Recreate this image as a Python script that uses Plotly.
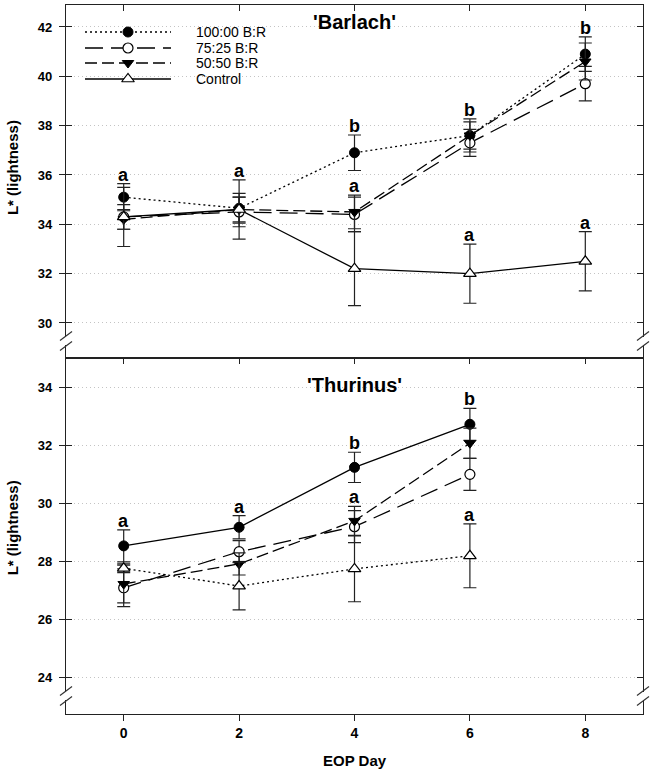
import plotly.graph_objects as go

# ---------------- data ----------------
days = [0, 2, 4, 6, 8]
days_thurinus = [0, 2, 4, 6]
series_names = ["100:00 B:R", "75:25 B:R", "50:50 B:R", "Control"]

# 'Barlach'
barlach_100 = [35.1, 34.65, 36.9, 37.6, 40.9]
barlach_100_err = [0.55, 0.6, 0.72, 0.67, 0.7]
barlach_75 = [34.3, 34.5, 34.4, 37.3, 39.7]
barlach_75_err = [0.5, 0.6, 0.7, 0.55, 0.7]
barlach_50 = [34.2, 34.6, 34.5, 37.6, 40.6]
barlach_50_err = [0.4, 0.5, 0.68, 0.55, 0.75]
barlach_ctrl = [34.3, 34.6, 32.2, 32.0, 32.5]
barlach_ctrl_err = [1.2, 1.2, 1.5, 1.2, 1.2]

# 'Thurinus'
thur_100 = [28.54, 29.18, 31.24, 32.72]
thur_100_err = [0.55, 0.4, 0.52, 0.55]
thur_75 = [27.1, 28.34, 29.2, 31.0]
thur_75_err = [0.65, 0.38, 0.55, 0.55]
thur_50 = [27.23, 27.92, 29.4, 32.07]
thur_50_err = [0.65, 0.38, 0.5, 0.52]
thur_ctrl = [27.77, 27.16, 27.75, 28.2]
thur_ctrl_err = [0.15, 0.82, 1.13, 1.1]

# significance letters: day, letter, indices of series whose error-bar top it sits on
bar_letter_days = [0, 2, 4, 4, 6, 6, 8, 8]
bar_letter_text = ["a", "a", "b", "a", "b", "a", "b", "a"]
bar_letter_groups = [[0, 1, 2, 3], [0, 1, 2, 3], [0], [1, 2], [0, 1, 2], [3], [0, 1, 2], [3]]

thur_letter_days = [0, 2, 4, 4, 6, 6]
thur_letter_text = ["a", "a", "b", "a", "b", "a"]
thur_letter_groups = [[0, 1, 2, 3], [0, 1, 2, 3], [0], [1, 2], [0], [3]]

x_ticks = [0, 2, 4, 6, 8]
y_ticks_top = [30, 32, 34, 36, 38, 40, 42]
y_ticks_bottom = [24, 26, 28, 30, 32, 34]

# ---------------- styles ----------------
FONT = "Liberation Sans, Arial, sans-serif"
markers = [
    dict(symbol="circle", size=10, color="black", line=dict(color="black", width=1)),
    dict(symbol="circle", size=10, color="white", line=dict(color="black", width=1.2)),
    dict(symbol="triangle-down", size=10, color="black", line=dict(color="black", width=1)),
    dict(symbol="triangle-up", size=11, color="white", line=dict(color="black", width=1.2)),
]
DOT = "2px,3px"
LONG = "18px,8px"
DASH = "12px,5px"
bar_dash = [DOT, LONG, DASH, "solid"]
thur_dash = ["solid", LONG, DASH, DOT]

fig = go.Figure()

bar_vals = [barlach_100, barlach_75, barlach_50, barlach_ctrl]
bar_errs = [barlach_100_err, barlach_75_err, barlach_50_err, barlach_ctrl_err]
thur_vals = [thur_100, thur_75, thur_50, thur_ctrl]
thur_errs = [thur_100_err, thur_75_err, thur_50_err, thur_ctrl_err]

def add_panel(xs, vals, errs, dashes, xa, ya):
    for i in range(4):
        fig.add_trace(go.Scatter(
            x=xs, y=vals[i], mode="lines+markers", xaxis=xa, yaxis=ya,
            line=dict(color="black", width=1.3, dash=dashes[i]),
            marker=markers[i], showlegend=False, hoverinfo="skip",
            error_y=dict(type="data", array=errs[i], visible=True,
                         color="#222222", thickness=1.2, width=6.5),
        ))

add_panel(days, bar_vals, bar_errs, bar_dash, "x", "y")
add_panel(days_thurinus, thur_vals, thur_errs, thur_dash, "x2", "y2")

# dummy traces to bind overlay tick axes
for xa, ya in [("x", "y3"), ("x", "y5"), ("x4", "y2"), ("x2", "y4"), ("x2", "y6")]:
    fig.add_trace(go.Scatter(x=[None], y=[None], xaxis=xa, yaxis=ya,
                             showlegend=False, hoverinfo="skip"))

# letters
annotations = []
def add_letters(ldays, ltext, lgroups, xs, vals, errs, xref, yref):
    for d, t, g in zip(ldays, ltext, lgroups):
        k = xs.index(d)
        top = max(vals[i][k] + errs[i][k] for i in g)
        annotations.append(dict(x=d, y=top, xref=xref, yref=yref, text=t,
                                showarrow=False, yanchor="bottom", yshift=-3,
                                font=dict(family=FONT, size=18, color="black", weight="bold")))

add_letters(bar_letter_days, bar_letter_text, bar_letter_groups, days, bar_vals, bar_errs, "x", "y")
add_letters(thur_letter_days, thur_letter_text, thur_letter_groups, days_thurinus, thur_vals, thur_errs, "x2", "y2")

# custom legend on a pixel-like overlay axis (x from plot left edge, y from plot top)
legend_rows_y = [27, 43, 58, 74]
for i in range(4):
    fig.add_trace(go.Scatter(
        x=[19, 105], y=[legend_rows_y[i]] * 2, mode="lines", xaxis="x9", yaxis="y9",
        line=dict(color="black", width=1.3, dash=bar_dash[i]), showlegend=False, hoverinfo="skip"))
    fig.add_trace(go.Scatter(
        x=[62], y=[legend_rows_y[i]], mode="markers", xaxis="x9", yaxis="y9",
        marker=markers[i], showlegend=False, hoverinfo="skip"))
    annotations.append(dict(x=128, y=legend_rows_y[i], xref="x9", yref="y9",
                            text=series_names[i], showarrow=False, xanchor="left",
                            yanchor="middle", font=dict(family=FONT, size=14, color="black")))

# titles
bold = lambda s: dict(family=FONT, size=s, color="black", weight="bold")
annotations += [
    dict(x=0.5, y=0.976, xref="paper", yref="paper", text="'Barlach'", showarrow=False,
         xanchor="center", yanchor="middle", font=bold(20)),
    dict(x=0.5, y=0.464, xref="paper", yref="paper", text="'Thurinus'", showarrow=False,
         xanchor="center", yanchor="middle", font=bold(20)),
    dict(x=-0.0935, y=0.77, xref="paper", yref="paper", text="L* (lightness)", showarrow=False,
         xanchor="center", yanchor="middle", textangle=-90, font=bold(15)),
    dict(x=-0.0935, y=0.262, xref="paper", yref="paper", text="L* (lightness)", showarrow=False,
         xanchor="center", yanchor="middle", textangle=-90, font=bold(15)),
    dict(x=0.5, y=-0.0649, xref="paper", yref="paper", text="EOP Day", showarrow=False,
         xanchor="center", yanchor="middle", font=bold(15)),
]

# axis break glyphs
shapes = []
for (xa, ya) in [(0, 0.5261), (1, 0.5261), (0, 0.0254), (1, 0.0254)]:
    shapes.append(dict(type="rect", xref="paper", yref="paper", xsizemode="pixel", ysizemode="pixel",
                       xanchor=xa, yanchor=ya, x0=-2, x1=2, y0=-4, y1=4,
                       fillcolor="white", line=dict(width=0), layer="above"))
    for c in (-5, 5):
        shapes.append(dict(type="line", xref="paper", yref="paper", xsizemode="pixel", ysizemode="pixel",
                           xanchor=xa, yanchor=ya, x0=-6, x1=6, y0=c - 4.5, y1=c + 4.5,
                           line=dict(color="#333333", width=1.2), layer="above"))

DIV = 0.50212
common_x = dict(range=[-1, 9], tickvals=x_ticks, showgrid=False, zeroline=False,
                linecolor="#222222", linewidth=1.3, tickcolor="#222222", ticklen=6)
common_y = dict(showgrid=True, gridcolor="#c4c4c4", griddash="1px,3px", gridwidth=1,
                zeroline=False, linecolor="#222222", linewidth=1.3, tickcolor="#222222", ticklen=6)
overlay_tick = dict(ticks="inside", ticklen=6, tickcolor="#222222", showticklabels=False,
                    showgrid=False, zeroline=False, showline=False)

fig.update_layout(
    width=653, height=778,
    margin=dict(l=66, r=10, t=5, b=64),
    paper_bgcolor="white", plot_bgcolor="rgba(0,0,0,0)",
    showlegend=False,
    font=dict(family=FONT, color="black"),
    xaxis=dict(**common_x, domain=[0, 1], anchor="y", side="top", ticks="inside",
               showticklabels=False, showline=True, mirror=True),
    yaxis=dict(**common_y, domain=[DIV, 1], range=[28.58, 42.89], anchor="x", tickvals=y_ticks_top,
               ticks="outside", showline=True, mirror=True, tickfont=bold(13), ticklabelstandoff=4),
    yaxis3=dict(**overlay_tick, range=[28.58, 42.89], overlaying="y", anchor="x", side="right",
                tickvals=y_ticks_top),
    yaxis5=dict(**overlay_tick, range=[28.58, 42.89], overlaying="y", anchor="x", side="left",
                tickvals=y_ticks_top),
    xaxis2=dict(**common_x, domain=[0, 1], anchor="y2", side="bottom", ticks="outside",
                showticklabels=True, showline=True, mirror=True, tickfont=bold(14), ticklabelstandoff=0),
    xaxis4=dict(**overlay_tick, range=[-1, 9], overlaying="x2", anchor="y2", side="top",
                tickvals=x_ticks),
    yaxis2=dict(**common_y, domain=[0, DIV], range=[22.76, 35.0], anchor="x2", tickvals=y_ticks_bottom,
                ticks="outside", showline=True, mirror=True, tickfont=bold(13), ticklabelstandoff=4),
    yaxis4=dict(**overlay_tick, range=[22.76, 35.0], overlaying="y2", anchor="x2", side="right",
                tickvals=y_ticks_bottom),
    yaxis6=dict(**overlay_tick, range=[22.76, 35.0], overlaying="y2", anchor="x2", side="left",
                tickvals=y_ticks_bottom),
    xaxis9=dict(domain=[0, 1], range=[0, 577], anchor="y9", visible=False, fixedrange=True),
    yaxis9=dict(domain=[0, 1], range=[709, 0], anchor="x9", visible=False, fixedrange=True),
    annotations=annotations,
    shapes=shapes,
)

fig.write_html("out.html")
